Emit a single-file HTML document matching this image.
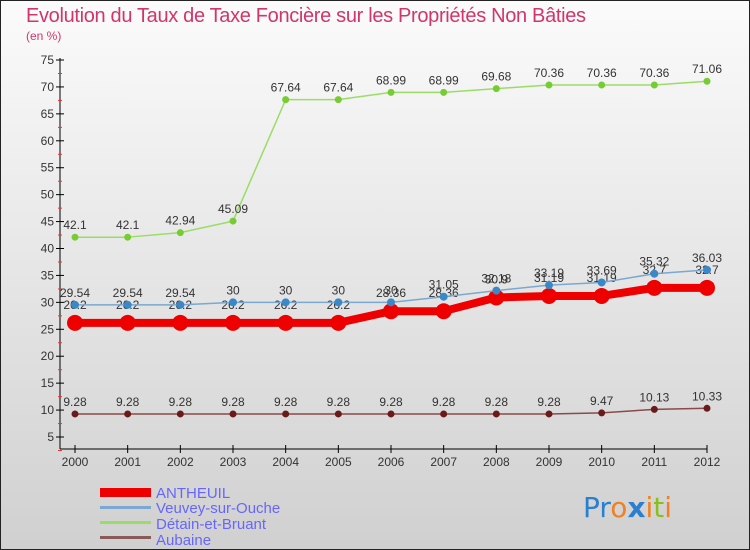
<!DOCTYPE html>
<html><head><meta charset="utf-8"><style>
body{margin:0;}
#wrap{width:750px;height:550px;position:relative;overflow:hidden;font-family:"Liberation Sans",sans-serif;}
</style></head><body>
<div id="wrap">
<svg id="chart" width="750" height="550" xmlns="http://www.w3.org/2000/svg">
<defs><linearGradient id="bg" x1="0" y1="0" x2="0" y2="1"><stop offset="0" stop-color="#fbfbfb"/><stop offset="1" stop-color="#d0d0d0"/></linearGradient></defs>
<rect x="0.5" y="0.5" width="749" height="549" fill="url(#bg)" stroke="#222"/>
<text x="26" y="22" font-size="20" fill="#d0366b" textLength="560">Evolution du Taux de Taxe Foncière sur les Propriétés Non Bâties</text>
<text x="26" y="40" font-size="12" fill="#d0366b">(en %)</text>
<g id="axes"></g>
<g id="series"></g>
<g id="legend" font-size="15" fill="#6666ff">
<rect x="100" y="488" width="51" height="9" fill="#ee0000"/>
<text x="156" y="498">ANTHEUIL</text>
<rect x="100" y="506" width="51" height="3" fill="#7aa8d0"/>
<text x="156" y="513">Veuvey-sur-Ouche</text>
<rect x="100" y="521" width="51" height="3" fill="#99dd66"/>
<text x="156" y="529">Détain-et-Bruant</text>
<rect x="100" y="536" width="51" height="3" fill="#8a5a5a"/>
<text x="156" y="545">Aubaine</text>
</g>
<g font-size="28" font-family="DejaVu Sans, sans-serif">
<text x="583" y="517"><tspan fill="#2a7fd0">Pr</tspan><tspan fill="#f08020">o</tspan><tspan fill="#2a7fd0" font-weight="bold">x</tspan><tspan fill="#f08020">i</tspan><tspan fill="#88c020">t</tspan><tspan fill="#f08020">i</tspan></text>
</g>
</svg>
</div>
<script>
const years=["2000","2001","2002","2003","2004","2005","2006","2007","2008","2009","2010","2011","2012"];
const yTicks=[5,10,15,20,25,30,35,40,45,50,55,60,65,70,75];
const antheuil=[26.2,26.2,26.2,26.2,26.2,26.2,28.36,28.36,30.9,31.19,31.19,32.7,32.7];
const veuvey=[29.54,29.54,29.54,30,30,30,30,31.05,32.18,33.19,33.69,35.32,36.03];
const detain=[42.1,42.1,42.94,45.09,67.64,67.64,68.99,68.99,69.68,70.36,70.36,70.36,71.06];
const aubaine=[9.28,9.28,9.28,9.28,9.28,9.28,9.28,9.28,9.28,9.28,9.47,10.13,10.33];

const NS="http://www.w3.org/2000/svg";
const x=i=>75+i*(707-75)/(years.length-1);
const y=v=>437-(v-5)*(437-60)/70;
function mk(tag,attrs,parent){const e=document.createElementNS(NS,tag);for(const k in attrs)e.setAttribute(k,attrs[k]);parent.appendChild(e);return e;}
const axes=document.getElementById('axes');
let a=mk('line',{x1:60,y1:58,x2:60,y2:449,stroke:'#000'},axes);


a=mk('line',{x1:60,y1:449,x2:707,y2:449,stroke:'#000'},axes);


yTicks.forEach(t=>{
  const l=mk('line',{x1:56,y1:y(t),x2:64,y2:y(t),stroke:'#000'},axes);
  
  
  const r=mk('line',{x1:58,y1:y(t)+13.5,x2:62,y2:y(t)+13.5,stroke:'#e33'},axes);
  
  
  const tx=mk('text',{x:54,y:y(t)+4,'font-size':12,'text-anchor':'end',fill:'#333'},axes);
  tx.textContent=t;
  
  
});
years.forEach((yr,i)=>{
  const l=mk('line',{x1:x(i),y1:445,x2:x(i),y2:453,stroke:'#000'},axes);
  
  
  const tx=mk('text',{x:x(i),y:466,'font-size':12,'text-anchor':'middle',fill:'#333'},axes);
  tx.textContent=yr;
  
  
});
const sg=document.getElementById('series');
function series(vals,color,w,r,name,dot,off){
  const g=mk('g',{},sg);
  
  
  const p=mk('polyline',{points:vals.map((v,i)=>x(i)+','+y(v)).join(' '),fill:'none',stroke:color,'stroke-width':w,'stroke-linejoin':'round'},g);
  
  
  vals.forEach((v,i)=>{
    const c=mk('circle',{cx:x(i),cy:y(v),r:r,fill:dot},g);
    
    
  });
  vals.forEach((v,i)=>{
    const t=mk('text',{x:x(i),y:y(v)-off,'font-size':12,'text-anchor':'middle',fill:'#333'},g);
    t.textContent=String(v);
    
    
  });
}
series(aubaine,'#8a4a4a',1.5,3.5,'aubaine','#6a1a1a',8);
series(detain,'#99dd66',1.5,3.5,'detain','#77cc33',8);
series(antheuil,'#ee0000',8,8,'antheuil','#ee0000',14);
series(veuvey,'#7aa8d0',1.5,4,'veuvey','#3a88c8',8);
</script>
</body></html>
